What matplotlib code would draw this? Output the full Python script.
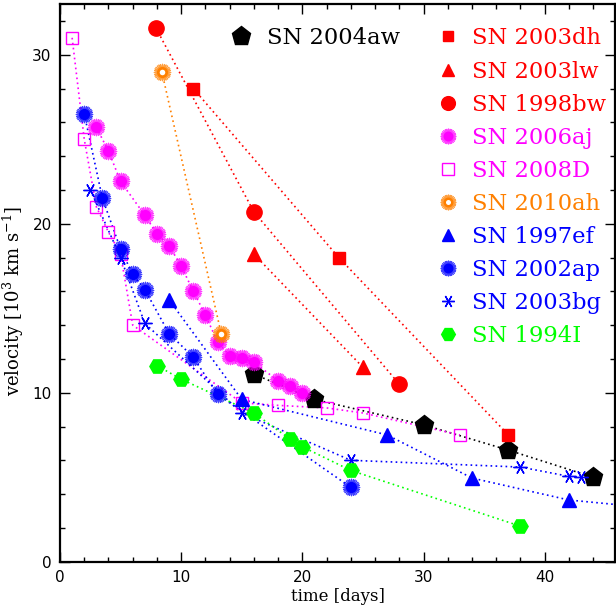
import matplotlib
matplotlib.use("Agg")
import matplotlib.pyplot as plt
from matplotlib.ticker import MultipleLocator

plt.rcParams['font.family'] = ['DejaVu Serif']
plt.rcParams['mathtext.fontset'] = 'dejavuserif'

# ---- data (days, 10^3 km/s) ----
aw04_d = [16, 21, 30, 37, 44]
aw04_v = [11.1, 9.6, 8.1, 6.6, 5.0]
dh03_d = [11, 23, 37]
dh03_v = [28.0, 18.0, 7.5]
lw03_d = [16, 25]
lw03_v = [18.2, 11.5]
bw98_d = [7.9, 16, 28]
bw98_v = [31.6, 20.7, 10.5]
aj06_d = [3, 4, 5, 7, 8, 9, 10, 11, 12, 13, 14, 15, 16, 18, 19, 20]
aj06_v = [25.7, 24.3, 22.5, 20.5, 19.4, 18.7, 17.5, 16.0, 14.6, 13.0, 12.2, 12.05, 11.8, 10.7, 10.4, 10.0]
d08_d = [1, 2, 3, 4, 5, 6, 15, 18, 22, 25, 33]
d08_v = [31.0, 25.0, 21.0, 19.5, 18.2, 14.0, 9.4, 9.25, 9.1, 8.8, 7.5]
ah10_d = [8.4, 13.3]
ah10_v = [29.0, 13.5]
ef97_d = [9, 15, 27, 34, 42, 50]
ef97_v = [15.5, 9.6, 7.5, 4.95, 3.65, 3.1]
ap02_d = [2, 3.5, 5, 6, 7, 9, 11, 13, 24]
ap02_v = [26.5, 21.5, 18.5, 17.0, 16.1, 13.5, 12.1, 9.9, 4.4]
bg03_d = [2.5, 5, 7, 15, 24, 38, 42, 43]
bg03_v = [22.0, 18.0, 14.1, 8.8, 6.0, 5.6, 5.05, 5.0]
i94_d = [8, 10, 16, 19, 20, 24, 38]
i94_v = [11.6, 10.8, 8.8, 7.25, 6.8, 5.4, 2.1]

RED, MAG, ORA, BLU, GRN = '#ff0000', '#ff00ff', '#ff8000', '#0000ff', '#00ff00'

fig = plt.figure(figsize=(6.16, 6.10), dpi=100)
ax = fig.add_axes([60/616, 48.3/610, 555/616, 557.7/610])

ls = (0, (1, 2))
lw = 1.2


def line(d, v, c):
    ax.plot(d, v, linestyle=ls, color=c, lw=lw, zorder=2)


def mk(d, v, c, m, s, **kw):
    h, = ax.plot(d, v, linestyle='none', marker=m, markersize=s, color=c,
                 markeredgecolor=c, zorder=3, **kw)
    return h


def burst(d, v, c, z=3):
    h1, = ax.plot(d, v, linestyle='none', marker=(28, 2, 0), markersize=12.5,
                  color=c, markeredgewidth=0.7, alpha=0.75, zorder=z)
    h2, = ax.plot(d, v, linestyle='none', marker='o', markersize=8.0,
                  color=c, markeredgewidth=0, zorder=z)
    return (h1, h2)


for d, v, c in [(aw04_d, aw04_v, 'black'), (dh03_d, dh03_v, RED), (lw03_d, lw03_v, RED),
                (bw98_d, bw98_v, RED), (aj06_d, aj06_v, MAG), (d08_d, d08_v, MAG),
                (ah10_d, ah10_v, ORA), (ef97_d, ef97_v, BLU), (ap02_d, ap02_v, BLU),
                (bg03_d, bg03_v, BLU), (i94_d, i94_v, GRN)]:
    line(d, v, c)

h_aw = mk(aw04_d, aw04_v, 'black', 'p', 14)
h_dh = mk(dh03_d, dh03_v, RED, 's', 8.5)
h_lw = mk(lw03_d, lw03_v, RED, '^', 9.5)
h_bw = mk(bw98_d, bw98_v, RED, 'o', 11)
h_aj = burst(aj06_d, aj06_v, MAG)
h_D = mk(d08_d, d08_v, MAG, 's', 9, markerfacecolor='none', markeredgewidth=1.0)
# ring marker for 2010ah
ha1, ha2 = burst(ah10_d, ah10_v, ORA)
ha3, = ax.plot(ah10_d, ah10_v, linestyle='none', marker='o', markersize=4,
               color='white', markeredgewidth=0, zorder=3.5)
h_ah = (ha1, ha2, ha3)
h_ef = mk(ef97_d, ef97_v, BLU, '^', 9.5)
h_ap = burst(ap02_d, ap02_v, BLU)
h_bg = mk(bg03_d, bg03_v, BLU, (6, 2, 90), 10, markeredgewidth=1.0)
h_i = mk(i94_d, i94_v, GRN, 'H', 11)

ax.set_xlim(0, 45.8)
ax.set_ylim(0, 33.0)
ax.xaxis.set_major_locator(MultipleLocator(10))
ax.xaxis.set_minor_locator(MultipleLocator(2))
ax.yaxis.set_major_locator(MultipleLocator(10))
ax.yaxis.set_minor_locator(MultipleLocator(2))
ax.tick_params(which='both', direction='in', top=True, right=True, width=1.0)
ax.tick_params(which='major', length=7.5, labelsize=11, pad=6)
ax.tick_params(which='minor', length=3.8)
for lab in ax.get_xticklabels() + ax.get_yticklabels():
    lab.set_family('DejaVu Sans')
for sp in ax.spines.values():
    sp.set_linewidth(1.6)

ax.set_xlabel('time [days]', fontsize=12, labelpad=2)
ax.set_ylabel(r'velocity [10$^3$ km s$^{-1}$]', fontsize=13)
ax.yaxis.set_label_coords(-0.062, 0.467)

fs = 16.3
leg1 = ax.legend([h_aw], ['SN 2004aw'], loc='upper left', bbox_to_anchor=(0.305, 0.958),
                 frameon=False, fontsize=fs, handlelength=1.0, handletextpad=0.65,
                 borderpad=0, borderaxespad=0, numpoints=1)
ax.add_artist(leg1)
handles = [h_dh, h_lw, h_bw, h_aj, h_D, h_ah, h_ef, h_ap, h_bg, h_i]
labels = ['SN 2003dh', 'SN 2003lw', 'SN 1998bw', 'SN 2006aj', 'SN 2008D',
          'SN 2010ah', 'SN 1997ef', 'SN 2002ap', 'SN 2003bg', 'SN 1994I']
colors = [RED, RED, RED, MAG, MAG, ORA, BLU, BLU, BLU, GRN]
leg2 = ax.legend(handles, labels, loc='upper left', bbox_to_anchor=(0.68, 0.958),
                 frameon=False, fontsize=fs, handlelength=0.95, handletextpad=0.6,
                 borderpad=0, borderaxespad=0, numpoints=1, labelspacing=0.49,
                 markerscale=0.9)
for t, c in zip(leg2.get_texts(), colors):
    t.set_color(c)

fig.savefig('out.png', dpi=100)
